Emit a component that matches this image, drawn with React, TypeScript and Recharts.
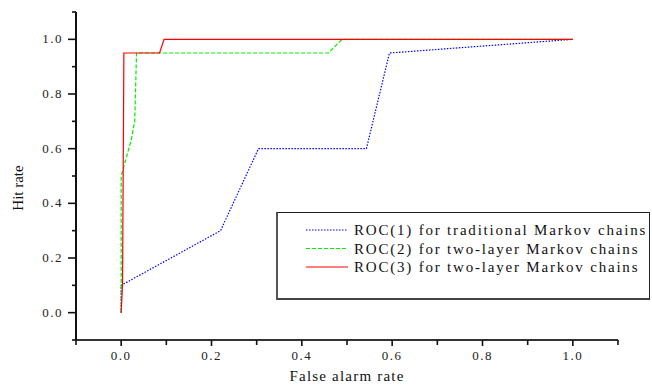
import React from 'react';
import { LineChart, Line, XAxis, YAxis, Legend } from 'recharts';

const roc1 = [
  { x: 0, y: 0 }, { x: 0, y: 0.1 }, { x: 0.22, y: 0.3 }, { x: 0.304, y: 0.6 },
  { x: 0.543, y: 0.6 }, { x: 0.594, y: 0.95 }, { x: 1, y: 1 },
];
const roc2 = [
  { x: 0, y: 0 }, { x: 0, y: 0.5 }, { x: 0.022, y: 0.63 }, { x: 0.03, y: 0.7 },
  { x: 0.034, y: 0.95 }, { x: 0.459, y: 0.95 }, { x: 0.489, y: 1 }, { x: 1, y: 1 },
];
const roc3 = [
  { x: 0, y: 0 }, { x: 0.003, y: 0.1 }, { x: 0.006, y: 0.95 }, { x: 0.085, y: 0.95 },
  { x: 0.095, y: 1 }, { x: 1, y: 1 },
];
const seriesNames = [
  'ROC(1) for traditional Markov chains',
  'ROC(2) for two-layer Markov chains',
  'ROC(3) for two-layer Markov chains',
];
const axisTicks = [-0.1, 0, 0.1, 0.2, 0.3, 0.4, 0.5, 0.6, 0.7, 0.8, 0.9, 1.0, 1.1];
const xLabel = 'False alarm rate';
const yLabel = 'Hit rate';

const FONT = "'Liberation Serif', serif";

const isMajor = (v: number) => {
  const k = Math.round(v * 10);
  return k >= 0 && k <= 10 && k % 2 === 0;
};

const XTick = (props: any) => {
  const { x, y, payload } = props;
  const v = payload.value as number;
  const major = isMajor(v);
  return (
    <g>
      <line x1={x} y1={y} x2={x} y2={y + (major ? 6 : 5)} stroke="#111" strokeWidth={1.6} />
      {major && (
        <text x={x} y={y + 20} textAnchor="middle" fontFamily={FONT} fontSize={13}
          letterSpacing={1.5} fill="#222">
          {v.toFixed(1)}
        </text>
      )}
    </g>
  );
};

const YTick = (props: any) => {
  const { x, y, payload } = props;
  const v = payload.value as number;
  const major = isMajor(v);
  return (
    <g>
      <line x1={x - (major ? 8 : 4)} y1={y} x2={x} y2={y} stroke="#111" strokeWidth={1.6} />
      {major && (
        <text x={x - 13} y={y + 4} textAnchor="end" fontFamily={FONT} fontSize={13}
          letterSpacing={1.5} fill="#222">
          {v.toFixed(1)}
        </text>
      )}
    </g>
  );
};

const LegendBox = (props: any) => {
  const items = (props.payload || []) as any[];
  return (
    <div style={{
      width: 374, height: 88, border: '1px solid #222', borderLeft: '2px solid #555',
      borderBottom: '2px solid #444', background: '#fff', boxSizing: 'border-box',
    }}>
      <svg width={372} height={86}>
        {items.map((it, i) => {
          const cy = 17 + i * 18.5;
          return (
            <g key={i}>
              <line x1={28} y1={cy} x2={70} y2={cy} stroke={it.color}
                strokeWidth={1.2} strokeDasharray={it.payload?.strokeDasharray} />
              <text x={76} y={cy + 5} fontFamily={FONT} fontSize={15} letterSpacing={1.8}
                fill="#111">{it.value}</text>
            </g>
          );
        })}
      </svg>
    </div>
  );
};

export default function App() {
  return (
    <div style={{ position: 'absolute', left: 0, top: 0, width: 652, height: 386, background: '#fff', fontFamily: FONT }}>
      <LineChart width={652} height={386} margin={{ top: 12, right: 34, bottom: 0, left: 0 }}>
        <XAxis type="number" dataKey="x" domain={[-0.1, 1.1]} ticks={axisTicks} interval={0}
          allowDataOverflow height={46} tickSize={0} tickMargin={0} tick={<XTick />}
          axisLine={{ stroke: '#333', strokeWidth: 2 }} tickLine={false} />
        <YAxis type="number" dataKey="y" domain={[-0.1, 1.1]} ticks={axisTicks} interval={0}
          allowDataOverflow width={76} tickSize={0} tickMargin={0} tick={<YTick />}
          axisLine={{ stroke: '#111', strokeWidth: 2 }} tickLine={false} />
        <Legend layout="vertical" align="center" verticalAlign="middle" content={<LegendBox />}
          wrapperStyle={{ position: 'absolute', left: 276, top: 212, width: 374, height: 88 }} />
        <Line data={roc1} dataKey="y" name={seriesNames[0]} stroke="#0000ff" strokeWidth={1.2}
          strokeDasharray="1.5 1.5" dot={false} isAnimationActive={false} type="linear" />
        <Line data={roc2} dataKey="y" name={seriesNames[1]} stroke="#00ee00" strokeWidth={1.2}
          strokeDasharray="4 2" dot={false} isAnimationActive={false} type="linear" />
        <Line data={roc3} dataKey="y" name={seriesNames[2]} stroke="#ff0000" strokeWidth={1.2}
          dot={false} isAnimationActive={false} type="linear" />
      </LineChart>
      <div style={{ position: 'absolute', left: 76, width: 542, top: 368, textAlign: 'center',
        fontFamily: FONT, fontSize: 15, letterSpacing: 1.2, color: '#111' }}>{xLabel}</div>
      <div style={{ position: 'absolute', left: 18, top: 188, transform: 'translate(-50%, -50%) rotate(-90deg)',
        fontFamily: FONT, fontSize: 15, color: '#111', whiteSpace: 'nowrap' }}>{yLabel}</div>
    </div>
  );
}
